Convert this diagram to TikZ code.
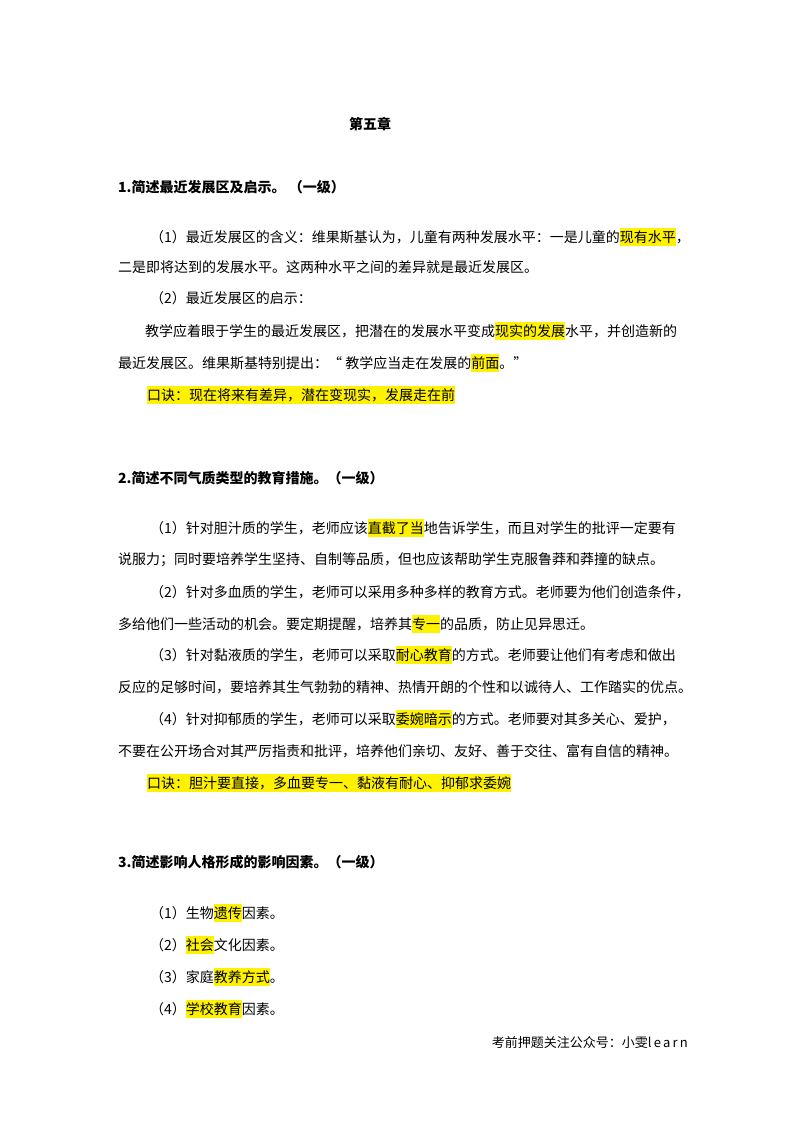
\documentclass[tikz,border=0pt]{standalone}
\usepackage{fontspec}
\setmainfont{Noto Sans CJK SC}
\newfontfamily\lat{Liberation Serif}
\newcommand\hlt[1]{{\setlength\fboxsep{0pt}\colorbox{yellow}{\rule[-0.3em]{0pt}{1.35em}#1}}}
\begin{document}
\begin{tikzpicture}[x=1pt,y=-1pt,
  t/.style={anchor=west,inner sep=0pt,font=\fontsize{14}{16}\selectfont},
  h/.style={t,font=\fontsize{14}{16}\selectfont\bfseries}]
\useasboundingbox[fill=white] (0,0) rectangle (800,1132);
\node[h,anchor=center] (title) at (370,124) {第五章};
\node[h] (q1) at (118,187) {1.简述最近发展区及启示。 （一级）};
\node[t] (a1) at (150,237) {（1）最近发展区的含义：维果斯基认为，儿童有两种发展水平：一是儿童的\hlt{现有水平}，};
\node[t] (a2) at (118,267) {二是即将达到的发展水平。这两种水平之间的差异就是最近发展区。};
\node[t] (a3) at (150,298) {（2）最近发展区的启示：};
\node[t] (a4) at (145,331) {教学应着眼于学生的最近发展区，把潜在的发展水平变成\hlt{现实的发展}水平，并创造新的};
\node[t] (a5) at (118,363) {最近发展区。维果斯基特别提出：“ 教学应当走在发展的\hlt{前面}。”};
\node[t] (a6) at (147,395) {\hlt{口诀：现在将来有差异，潜在变现实，发展走在前}};
\node[h] (q2) at (118,478) {2.简述不同气质类型的教育措施。（一级）};
\node[t] (b1) at (150,528) {（1）针对胆汁质的学生，老师应该\hlt{直截了当}地告诉学生，而且对学生的批评一定要有};
\node[t] (b2) at (118,560) {说服力；同时要培养学生坚持、自制等品质，但也应该帮助学生克服鲁莽和莽撞的缺点。};
\node[t] (b3) at (150,592) {（2）针对多血质的学生，老师可以采用多种多样的教育方式。老师要为他们创造条件，};
\node[t] (b4) at (118,624) {多给他们一些活动的机会。要定期提醒，培养其\hlt{专一}的品质，防止见异思迁。};
\node[t] (b5) at (150,655) {（3）针对黏液质的学生，老师可以采取\hlt{耐心教育}的方式。老师要让他们有考虑和做出};
\node[t] (b6) at (118,687) {反应的足够时间，要培养其生气勃勃的精神、热情开朗的个性和以诚待人、工作踏实的优点。};
\node[t] (b7) at (150,719) {（4）针对抑郁质的学生，老师可以采取\hlt{委婉暗示}的方式。老师要对其多关心、爱护，};
\node[t] (b8) at (118,751) {不要在公开场合对其严厉指责和批评，培养他们亲切、友好、善于交往、富有自信的精神。};
\node[t] (b9) at (147,783) {\hlt{口诀：胆汁要直接，多血要专一、黏液有耐心、抑郁求委婉}};
\node[h] (q3) at (118,862) {3.简述影响人格形成的影响因素。（一级）};
\node[t] (c1) at (150,913) {（1）生物\hlt{遗传}因素。};
\node[t] (c2) at (150,945) {（2）\hlt{社会}文化因素。};
\node[t] (c3) at (150,977) {（3）家庭\hlt{教养方式}。};
\node[t] (c4) at (150,1009) {（4）\hlt{学校教育}因素。};
\node[t,anchor=east,font=\fontsize{13}{15}\selectfont] (ft) at (688,1043) {考前押题关注公众号：小雯l\,e\,a\,r\,n};
\end{tikzpicture}
\end{document}
